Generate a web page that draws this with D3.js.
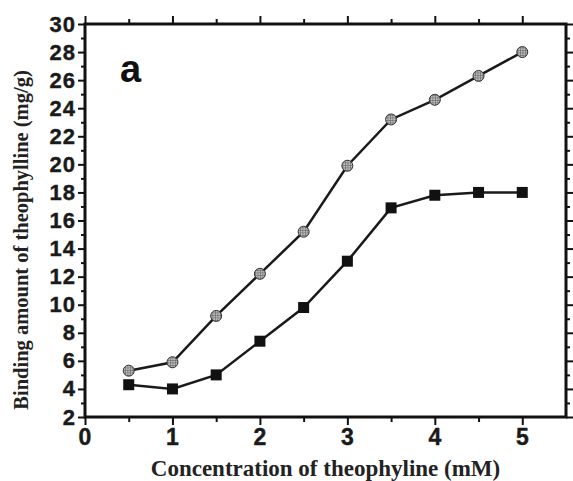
<!DOCTYPE html>
<html>
<head>
<meta charset="utf-8">
<script src="https://cdn.jsdelivr.net/npm/d3@7"></script>
<style>
  html, body { margin: 0; padding: 0; background: #fff; }
  svg { display: block; }
</style>
</head>
<body>
<svg id="chart" width="573" height="481"></svg>
<script>
// Theophylline concentrations (mM)
const concentration = [0.5, 1, 1.5, 2, 2.5, 3, 3.5, 4, 4.5, 5];
// Binding amount (mg/g), circle series
const bindingCircle = [5.3, 5.9, 9.2, 12.2, 15.2, 19.9, 23.2, 24.6, 26.3, 28.0];
// Binding amount (mg/g), square series
const bindingSquare = [4.3, 4.0, 5.0, 7.4, 9.8, 13.1, 16.9, 17.8, 18.0, 18.0];
const xTicks = [0, 1, 2, 3, 4, 5];
const yTicks = [2, 4, 6, 8, 10, 12, 14, 16, 18, 20, 22, 24, 26, 28, 30];

const svg = d3.select("#chart");
const plotL = 85, plotR = 566, plotT = 24, plotB = 417;

const x = d3.scaleLinear().domain([0, 5.5]).range([plotL, plotR]);
const y = d3.scaleLinear().domain([2, 30]).range([plotB, plotT]);

// hatch pattern for the circle markers
const defs = svg.append("defs");
const pat = defs.append("pattern").attr("id", "hatch")
  .attr("patternUnits", "userSpaceOnUse").attr("width", 2.5).attr("height", 2.5);
pat.append("rect").attr("width", 2.5).attr("height", 2.5).attr("fill", "#bbb");
pat.append("path").attr("d", "M0,0H2.5M0,0V2.5").attr("stroke", "#444").attr("stroke-width", 0.8);

const tickFont = "'Liberation Sans', Arial, sans-serif";
const minorX = d3.range(0.5, 5.5, 1);
const minorY = d3.range(3, 30, 2);

function styleAxis(g, size) {
  g.select(".domain").remove();
  g.selectAll(".tick line").attr("stroke", "#111").attr("stroke-width", 2);
  g.selectAll(".tick text").attr("font-family", tickFont).attr("font-weight", "bold")
    .attr("font-size", size || 22).attr("letter-spacing", 1).attr("fill", "#1a1a1a")
    .attr("stroke", "#1a1a1a").attr("stroke-width", 0.4);
}

// bottom axis
svg.append("g").attr("transform", `translate(0,${plotB})`)
  .call(d3.axisBottom(x).tickValues(xTicks).tickSize(8).tickPadding(4).tickFormat(d3.format("d")))
  .call(styleAxis, 23);
svg.append("g").attr("transform", `translate(0,${plotB})`)
  .call(d3.axisBottom(x).tickValues(minorX).tickSize(5).tickFormat(""))
  .call(styleAxis);
// top axis
svg.append("g").attr("transform", `translate(0,${plotT})`)
  .call(d3.axisTop(x).tickValues(xTicks).tickSize(8).tickFormat(""))
  .call(styleAxis);
svg.append("g").attr("transform", `translate(0,${plotT})`)
  .call(d3.axisTop(x).tickValues(minorX).tickSize(5).tickFormat(""))
  .call(styleAxis);
// left axis
svg.append("g").attr("transform", `translate(${plotL},0)`)
  .call(d3.axisLeft(y).tickValues(yTicks).tickSize(7).tickPadding(2).tickFormat(d3.format("d")))
  .call(styleAxis, 22);
svg.append("g").attr("transform", `translate(${plotL},0)`)
  .call(d3.axisLeft(y).tickValues(minorY).tickSize(4).tickFormat(""))
  .call(styleAxis);
// right axis
svg.append("g").attr("transform", `translate(${plotR},0)`)
  .call(d3.axisRight(y).tickValues(yTicks).tickSize(7).tickFormat(""))
  .call(styleAxis);
svg.append("g").attr("transform", `translate(${plotR},0)`)
  .call(d3.axisRight(y).tickValues(minorY).tickSize(4).tickFormat(""))
  .call(styleAxis);

// frame
svg.append("rect").attr("x", plotL).attr("y", plotT)
  .attr("width", plotR - plotL).attr("height", plotB - plotT)
  .attr("fill", "none").attr("stroke", "#111").attr("stroke-width", 3);

const line = d3.line().x(d => x(d[0])).y(d => y(d[1]));
const sq = concentration.map((c, i) => [c, bindingSquare[i]]);
const ci = concentration.map((c, i) => [c, bindingCircle[i]]);

svg.append("path").datum(sq).attr("d", line)
  .attr("fill", "none").attr("stroke", "#1a1a1a").attr("stroke-width", 2.5);
svg.append("path").datum(ci).attr("d", line)
  .attr("fill", "none").attr("stroke", "#1a1a1a").attr("stroke-width", 2.5);

svg.selectAll(".sq").data(sq).enter().append("rect")
  .attr("x", d => x(d[0]) - 5.5).attr("y", d => y(d[1]) - 5.5)
  .attr("width", 11).attr("height", 11).attr("fill", "#111");

svg.selectAll(".ci").data(ci).enter().append("circle")
  .attr("cx", d => x(d[0])).attr("cy", d => y(d[1])).attr("r", 5.5)
  .attr("fill", "url(#hatch)").attr("stroke", "#333").attr("stroke-width", 1);

// panel letter
svg.append("text").attr("x", 120).attr("y", 82)
  .attr("font-family", tickFont).attr("font-weight", "bold").attr("font-size", 38)
  .attr("fill", "#111").text("a");

const titleFont = "'Liberation Serif', 'Times New Roman', serif";
svg.append("text").attr("x", (plotL + plotR) / 2).attr("y", 476)
  .attr("text-anchor", "middle").attr("font-family", titleFont).attr("font-weight", "bold")
  .attr("font-size", 23).attr("fill", "#222").text("Concentration of theophyline (mM)");
svg.append("text").attr("transform", "translate(28,240) rotate(-90)")
  .attr("text-anchor", "middle").attr("font-family", titleFont).attr("font-weight", "bold")
  .attr("font-size", 20.5).attr("fill", "#222").text("Binding amount of theophylline  (mg/g)");
</script>
</body>
</html>
